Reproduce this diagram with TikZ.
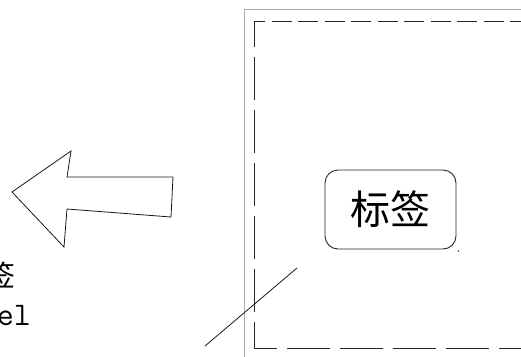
\documentclass[tikz,border=0pt]{standalone}
\usepackage{fontspec}
\newfontfamily\cjk{Noto Sans CJK SC}
\tikzset{
  frameline/.style={draw=gray!65, line width=1.8pt},
  dashline/.style={draw=black!85, line width=0.9pt},
  tagbox/.style={draw=black!85, line width=0.9pt, rounded corners=13pt, minimum width=131pt, minimum height=79pt, inner sep=0pt, font=\cjk\fontsize{40}{48}\selectfont},
  outline/.style={draw=black!90, line width=0.8pt},
  lefttext/.style={inner sep=0pt, anchor=base east}
}
\begin{document}
\begin{tikzpicture}[x=1pt,y=-1pt]
\useasboundingbox (0,0) rectangle (521,356);
% outer frame
\draw[frameline] (244.5,360) -- (244.5,9.5) -- (530,9.5);
% inner dashed frame
\draw[dashline, dash pattern=on 20pt off 6.5pt, dash phase=9pt] (254,21) -- (530,21);
\draw[dashline, dash pattern=on 43pt off 10pt, dash phase=17pt] (254,21) -- (254,348);
\draw[dashline, dash pattern=on 43pt off 10pt, dash phase=20pt] (254,348) -- (530,348);
% label box
\node[tagbox] (tag) at (390.5,209.5) {标签};
\fill[black!70] (458.5,251) circle (0.8pt);
% leader line
\coordinate (ls) at (297,268);
\coordinate (le) at (205,346);
\draw[outline] (ls) -- (le);
% hollow arrow
\draw[outline, line join=miter] (12,192) -- (71,151) -- (67,177) -- (173,177) -- (171,217) -- (67,209) -- (64,247) -- cycle;
% left text
\node[lefttext, font=\cjk\fontsize{29}{34}\selectfont] (zh) at (15.5,286) {标签};
\node[lefttext, font=\ttfamily\fontsize{33}{40}\selectfont] (en) at (31,325) {Label};
\end{tikzpicture}
\end{document}
